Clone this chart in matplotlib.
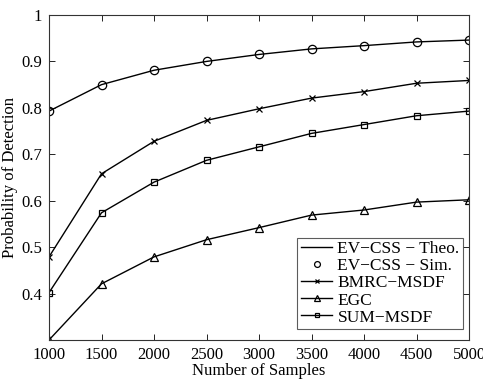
import matplotlib
matplotlib.use("Agg")
import matplotlib.pyplot as plt

samples = [1000, 1500, 2000, 2500, 3000, 3500, 4000, 4500, 5000]
ev_css = [0.793, 0.850, 0.881, 0.900, 0.915, 0.927, 0.934, 0.942, 0.946]
bmrc_msdf = [0.479, 0.658, 0.728, 0.773, 0.798, 0.821, 0.835, 0.853, 0.859]
egc = [0.300, 0.421, 0.479, 0.516, 0.542, 0.569, 0.580, 0.597, 0.602]
sum_msdf = [0.402, 0.574, 0.640, 0.687, 0.716, 0.745, 0.764, 0.783, 0.793]
yticks = [0.4, 0.5, 0.6, 0.7, 0.8, 0.9, 1.0]
ytick_labels = ["0.4", "0.5", "0.6", "0.7", "0.8", "0.9", "1"]

plt.rcParams['font.family'] = ['Liberation Serif', 'DejaVu Serif']

fig = plt.figure(figsize=(4.83, 3.80), dpi=100)
ax = fig.add_axes([49/483, 1-340/380, (469-49)/483, (340-15)/380])

lw = 1.0
ax.plot(samples, ev_css, '-', color='black', lw=lw, label='EV\u2212CSS \u2212 Theo.')
ax.plot(samples, ev_css, 'o', color='black', mfc='none', ms=6, mew=0.9, ls='none', label='EV\u2212CSS \u2212 Sim.')
ax.plot(samples, bmrc_msdf, '-x', color='black', lw=lw, ms=4.5, mew=0.9, label='BMRC\u2212MSDF')
ax.plot(samples, egc, '-^', color='black', lw=lw, mfc='none', ms=6, mew=0.9, label='EGC')
ax.plot(samples, sum_msdf, '-s', color='black', lw=lw, mfc='none', ms=4.5, mew=0.9, label='SUM\u2212MSDF')

ax.set_xlim(1000, 5000)
ax.set_ylim(0.3, 1.0)
ax.set_xticks(samples)
ax.set_xticklabels([str(s) for s in samples])
ax.set_yticks(yticks)
ax.set_yticklabels(ytick_labels)
ax.tick_params(direction='in', top=True, right=True, labelsize=12, length=4, width=0.6, pad=5)
for sp in ax.spines.values():
    sp.set_linewidth(0.8)
    sp.set_color('#333333')

ax.set_xlabel('Number of Samples', fontsize=12, labelpad=0)
ax.set_ylabel('Probability of Detection', fontsize=12, labelpad=2)

leg = ax.legend(loc='lower right', bbox_to_anchor=((463-49)/420, (340-329)/325),
                fontsize=12.5, frameon=True, fancybox=False, markerscale=0.7,
                edgecolor='#333333', borderaxespad=0.0, handlelength=1.8,
                handletextpad=0.3, labelspacing=0.05, borderpad=0.2)
leg.get_frame().set_linewidth(0.8)

fig.savefig('out.png', dpi=100)
